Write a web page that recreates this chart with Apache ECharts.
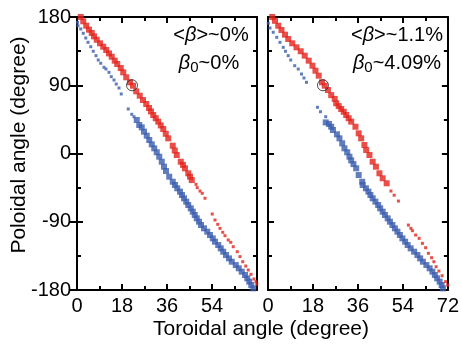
<!DOCTYPE html>
<html>
<head>
<meta charset="utf-8">
<script src="https://cdn.jsdelivr.net/npm/echarts/dist/echarts.min.js"></script>
<style>
  html, body { margin: 0; padding: 0; background: #fff; }
  #container { width: 462px; height: 346px; }
</style>
</head>
<body>
<div id="container"></div>
<script>
const xTickValues = [0, 18, 36, 54, 72]
const yTickValues = [-180, -90, 0, 90, 180]
const betaAvg = ['0%', '1.1%']
const beta0 = ['0%', '4.09%']
const markedPoint = [22, 90]

// left panel (<beta> ~ 0%)
const leftRedDense = [
    [1.5, 180], [2.5, 174.3], [3.7, 168.5], [4.8, 163.3], [5.9, 159], [6.8, 154.5], [7.9, 150],
    [9.2, 145.3], [10.5, 140.8], [11.7, 136.5], [12.8, 132], [13.9, 127.6], [15.1, 122.4],
    [16.1, 118], [17.5, 112.7], [18.5, 107], [19.7, 100.5], [21.2, 93.9], [22.4, 89.4],
    [23.7, 82], [25.1, 76.2], [26.4, 70.5], [27.7, 65.3], [28.8, 60], [29.6, 55.5], [30.5, 50.8],
    [31.5, 46.5], [32.5, 42], [33.5, 37], [34.5, 32.3], [35.5, 26], [36.5, 20], [38.3, 10.3],
    [39.1, 4], [39.9, -2], [41.5, -10.8], [42.4, -15], [43.2, -19.6], [44.5, -26.1], [45.2, -30.5],
    [45.9, -35]
]
const leftRedSparse = [
    [47.6, -40.7], [48.1, -45], [49.2, -49.5], [50.1, -52.5], [51.2, -59],
    [54.1, -79.8], [55.2, -87.7], [56.3, -93.4], [57.2, -98.7], [58.3, -103.9], [59.2, -108.4],
    [60.5, -114], [61.5, -117.1], [62.5, -122.9], [64.1, -129.5], [65.2, -136], [66.3, -142.7],
    [67.5, -148.4], [68.5, -153.6], [69.6, -159.3], [70.8, -165.5], [71.6, -169], [71.9, -172.5]
]
const leftBlueSparse = [
    [0.2, 173], [0.4, 168.5], [1.5, 164.2], [2.5, 158.5], [3.5, 152.3], [4.4, 146.6], [5.5, 140.8],
    [6.5, 134.8], [7.6, 129], [8.5, 123.3], [9.5, 119], [10.8, 113.7], [11.6, 111.4], [12.8, 107],
    [13.7, 101.3], [14.8, 96.9], [15.7, 91.6], [16.8, 86.4], [17.7, 78.5],
    [20.5, 58.7], [21.9, 51.7], [22.8, 48.5]
]
const leftBlueDense = [
    [23.9, 44.2], [24.9, 37.6], [25.9, 34.5], [26.8, 28.8], [27.9, 23.5], [28.9, 17.8], [29.9, 12.1],
    [30.9, 6.8], [31.9, 1.6], [32.9, -4.2], [33.9, -10.8], [34.8, -17.4], [35.6, -23.1],
    [36.9, -30.6], [38.3, -37.2], [39.2, -41.5], [40.1, -45.9], [41.2, -50.3], [42, -54.7],
    [42.8, -59.1], [43.7, -63.5], [44.5, -67.9], [45.5, -72.3], [46.3, -76.7], [47.1, -81.1],
    [47.9, -85.5], [48.8, -89.9], [49.6, -94.3], [50.8, -98.7], [52.1, -103.1], [53.2, -107.5],
    [54.3, -111.9], [55.2, -116.3], [56.5, -120.7], [57.5, -125.1], [58.5, -129.5], [59.6, -133.9],
    [60.8, -138.3], [61.9, -142.7], [63.5, -147.1], [64.7, -151.4], [65.9, -155.8], [67.2, -160.2],
    [68.1, -164.6], [68.9, -169], [69.7, -173.4], [70.5, -177.8]
]

// right panel (<beta> ~ 1.1%)
const rightRedDense = [
    [1.7, 180], [2.8, 175], [4.1, 168.5], [5.4, 162.9], [6.8, 156.7], [8.1, 151], [9.7, 145.3],
    [11.4, 140], [13.1, 134.8], [14.7, 129], [16.3, 122.4], [17.8, 115.8], [19, 109.2],
    [20.3, 102.6], [21.6, 93.9], [22.7, 89.4], [24, 83.7], [25.3, 77], [26.7, 72], [27.3, 66.2],
    [28.3, 62.5], [29.3, 58.7], [30.3, 55], [31.3, 50.8], [32.3, 46.5], [33.3, 42], [35, 35.3],
    [36.3, 26.6], [37.3, 20], [38.6, 11.2], [39.3, 4.6], [40.6, -2], [41.9, -10.8], [43.2, -17.4],
    [44.6, -26.1], [45.9, -32.7], [47.5, -39.3]
]
const rightRedSparse = [
    [49.2, -49.5], [50.5, -55], [52.2, -62.7],
    [56.2, -94.4], [57.2, -98.7], [57.8, -101.8], [59.1, -107.5], [60.5, -111.9], [61.8, -118.5],
    [63.1, -124.2], [64.2, -131.6], [65.5, -137.4], [66.4, -142.7], [67.3, -149.3], [68.4, -155],
    [69.7, -161.2], [71.1, -169], [71.9, -173.4]
]
const rightBlueSparse = [
    [0.1, 171.7], [0.8, 165.5], [2.1, 159.8], [3.5, 153.2], [4.8, 146.6], [6.1, 140], [7, 134.8],
    [8.1, 129], [9.1, 123.3], [10.7, 115.8], [12.1, 111.4], [13.4, 104.8], [14.4, 99.6],
    [15.4, 93.9], [19.8, 60.9], [21, 55.1], [23.1, 48.5]
]
const rightBlueDense = [
    [23.1, 41], [24.4, 39], [25.3, 35.3], [26, 31], [27.6, 25.3], [28.6, 20], [29.7, 13.4],
    [30.6, 6.8], [31.7, 1.6], [32.6, -4.2], [33.3, -9], [34.2, -14], [35.3, -19.5],
    [36.3, -28.4], [37.7, -37.2], [37.9, -41.5], [39.2, -45.9], [40.2, -50.3], [41, -54.7],
    [41.9, -59.1], [43, -63.5], [44.1, -67.9], [44.9, -72.3], [45.9, -76.7], [46.8, -81.1],
    [47.9, -85.5], [48.8, -89.9], [49.8, -94.3], [50.8, -98.7], [51.8, -103.1], [52.8, -107.5],
    [53.8, -111.9], [54.9, -116.3], [55.9, -120.7], [57.1, -125.1], [58.5, -129.5], [59.8, -133.9],
    [60.9, -138.3], [62, -142.7], [63.4, -147.1], [64.7, -151.4], [65.8, -155.8], [66.8, -160.2],
    [67.7, -164.6], [68.7, -169], [69.5, -173.4], [70, -177.8]
]

const FONT = '"Liberation Sans", Arial, sans-serif'
const RED = '#e4221b'
const BLUE = '#3a5dae'

const chart = echarts.init(document.getElementById('container'))

const xStep = xTickValues[1] - xTickValues[0]
const yStep = yTickValues[1] - yTickValues[0]

function xAxisFor(grid, position, showLabels, hideLast) {
    return {
        type: 'value',
        gridIndex: grid,
        position: position,
        min: xTickValues[0],
        max: xTickValues[xTickValues.length - 1],
        interval: xStep,
        axisLine: { show: true, onZero: false, lineStyle: { color: '#000', width: 2 } },
        axisTick: { show: true, inside: true, length: 6, lineStyle: { color: '#000', width: 2 } },
        minorTick: { show: true, splitNumber: 2, length: 4, lineStyle: { color: '#000', width: 2 } },
        splitLine: { show: false },
        axisLabel: {
            show: showLabels,
            color: '#000',
            fontSize: 20,
            fontFamily: FONT,
            margin: 6,
            formatter: v => (hideLast && v === xTickValues[xTickValues.length - 1] ? '' : String(v))
        }
    }
}

function yAxisFor(grid, position, showLabels, inside) {
    return {
        type: 'value',
        gridIndex: grid,
        position: position,
        min: yTickValues[0],
        max: yTickValues[yTickValues.length - 1],
        interval: yStep,
        axisLine: { show: true, onZero: false, lineStyle: { color: '#000', width: 2 } },
        axisTick: { show: true, inside: inside, length: inside ? 6 : 7, lineStyle: { color: '#000', width: 2 } },
        minorTick: { show: inside, splitNumber: 2, length: 4, lineStyle: { color: '#000', width: 2 } },
        splitLine: { show: false },
        axisLabel: {
            show: showLabels,
            color: '#000',
            fontSize: 20,
            fontFamily: FONT,
            margin: 6
        }
    }
}

function dots(data, color, size, xi, yi) {
    return {
        type: 'scatter',
        xAxisIndex: xi,
        yAxisIndex: yi,
        symbol: 'rect',
        symbolSize: size,
        itemStyle: { color: color },
        data: data
    }
}

function ring(xi, yi) {
    return {
        type: 'scatter',
        xAxisIndex: xi,
        yAxisIndex: yi,
        symbol: 'circle',
        symbolSize: 11,
        z: 5,
        itemStyle: { color: 'rgba(0,0,0,0)', borderColor: '#222', borderWidth: 1 },
        data: [markedPoint]
    }
}

const rich = {
    b: { fontStyle: 'italic', fontSize: 20, fontFamily: FONT, fill: '#000' },
    s: { fontSize: 15, fontFamily: FONT, fill: '#000', padding: [10, 0, 0, 0] }
}

function note(x, y, text) {
    return {
        type: 'text',
        x: x,
        y: y,
        style: {
            text: text,
            rich: rich,
            fontSize: 20,
            fontFamily: FONT,
            fill: '#000',
            align: 'center',
            verticalAlign: 'middle'
        }
    }
}

const option = {
    animation: false,
    backgroundColor: '#fff',
    grid: [
        { left: 77, top: 17, width: 180, height: 273 },
        { left: 268, top: 17, width: 181, height: 273 }
    ],
    xAxis: [
        xAxisFor(0, 'bottom', true, true),
        xAxisFor(0, 'top', false, false),
        xAxisFor(1, 'bottom', true, false),
        xAxisFor(1, 'top', false, false)
    ],
    yAxis: [
        yAxisFor(0, 'left', true, false),
        yAxisFor(0, 'left', false, true),
        yAxisFor(0, 'right', false, true),
        yAxisFor(1, 'left', false, true),
        yAxisFor(1, 'right', false, true)
    ],
    graphic: [
        note(211, 35, '<{b|β}>~' + betaAvg[0]),
        note(209, 63, '{b|β}{s|0}~' + beta0[0]),
        note(397, 35, '<{b|β}>~' + betaAvg[1]),
        note(397, 63, '{b|β}{s|0}~' + beta0[1]),
        {
            type: 'text',
            x: 261,
            y: 329,
            style: {
                text: 'Toroidal angle (degree)',
                fontSize: 21,
                fontFamily: FONT,
                fill: '#000',
                align: 'center',
                verticalAlign: 'middle'
            }
        },
        {
            type: 'text',
            x: 19,
            y: 145,
            rotation: Math.PI / 2,
            style: {
                text: 'Poloidal angle (degree)',
                fontSize: 21,
                fontFamily: FONT,
                fill: '#000',
                align: 'center',
                verticalAlign: 'middle'
            }
        }
    ],
    series: [
        dots(leftBlueSparse, BLUE, 3, 0, 0),
        dots(leftBlueDense, BLUE, 6, 0, 0),
        dots(leftRedDense, RED, 6, 0, 0),
        dots(leftRedSparse, RED, 3, 0, 0),
        ring(0, 0),
        dots(rightBlueSparse, BLUE, 3, 2, 3),
        dots(rightBlueDense, BLUE, 6, 2, 3),
        dots(rightRedDense, RED, 6, 2, 3),
        dots(rightRedSparse, RED, 3, 2, 3),
        ring(2, 3)
    ]
}

chart.setOption(option)
</script>
</body>
</html>
